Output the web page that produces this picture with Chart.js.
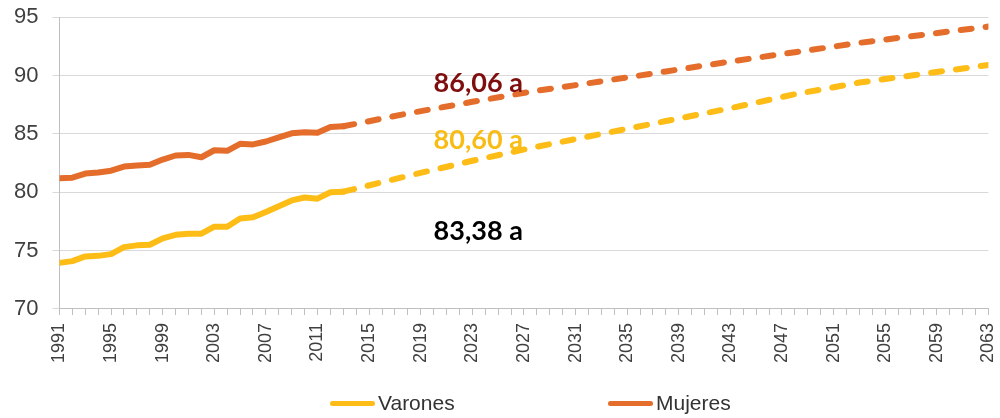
<!DOCTYPE html>
<html>
<head>
<meta charset="utf-8">
<script src="https://cdn.jsdelivr.net/npm/chart.js@4/dist/chart.umd.min.js"></script>
<style>
  html, body { margin: 0; padding: 0; background: #fff; }
  #wrap { position: relative; width: 1000px; height: 418px; overflow: hidden; }
  #box { position: absolute; left: 0; top: -10px; width: 1018px; height: 428px; }
  .leg { position: absolute; top: 391px; height: 24px; display: flex; align-items: center;
         font-family: "Liberation Sans", Arial, sans-serif; font-size: 21px; color: #333; }
  .leg span.line { display: inline-block; width: 45px; height: 5px; border-radius: 3px; margin-right: 3px; }
</style>
</head>
<body>
<div id="wrap">
  <div id="box"><canvas id="chart1"></canvas></div>
  <div class="leg" style="left:330px"><span class="line" style="background:#FDBD16"></span>Varones</div>
  <div class="leg" style="left:608px"><span class="line" style="background:#E46D2B"></span>Mujeres</div>
</div>
<script>
// Données observées (1991-2013)
const histYears = [1991, 1992, 1993, 1994, 1995, 1996, 1997, 1998, 1999, 2000, 2001, 2002,
                   2003, 2004, 2005, 2006, 2007, 2008, 2009, 2010, 2011, 2012, 2013];
const varonesHist = [73.95, 74.1, 74.5, 74.55, 74.7, 75.3, 75.45, 75.5, 76.05, 76.35, 76.45, 76.45,
                     77.05, 77.05, 77.75, 77.85, 78.3, 78.8, 79.3, 79.55, 79.45, 80.0, 80.05];
const mujeresHist = [81.2, 81.25, 81.6, 81.7, 81.85, 82.2, 82.3, 82.35, 82.8, 83.15, 83.2, 83.0,
                     83.6, 83.55, 84.15, 84.1, 84.35, 84.7, 85.05, 85.15, 85.1, 85.6, 85.65];

// Projections (2013-2063)
const projYears = [2013, 2018, 2023, 2028, 2033, 2038, 2043, 2048, 2053, 2058, 2063];
const varonesProj = [80.05, 81.4, 82.7, 83.9, 85.0, 86.1, 87.2, 88.4, 89.4, 90.15, 90.9];
const mujeresProj = [85.65, 86.75, 87.75, 88.7, 89.5, 90.35, 91.2, 92.0, 92.8, 93.5, 94.2];

// Étiquettes dans le graphique
const noteTexts = ['86,06 a', '80,60 a', '83,38 a'];
const noteColors = ['#7F0E0E', '#F9BC15', '#000000'];
const noteX = [2020, 2020, 2020];
const noteY = [88.62, 83.69, 75.92];

const toPoints = (xs, ys) => xs.map((x, i) => ({ x: x, y: ys[i] }));

const gold = '#FDBD16';
const orange = '#E46D2B';

// Plugin pour dessiner les étiquettes
const notesPlugin = {
  id: 'notes',
  afterDatasetsDraw(chart) {
    const { ctx, scales } = chart;
    ctx.save();
    ctx.font = 'bold 27px Lato, "Open Sans", sans-serif';
    ctx.textAlign = 'left';
    ctx.textBaseline = 'alphabetic';
    noteTexts.forEach((t, i) => {
      ctx.fillStyle = noteColors[i];
      ctx.fillText(t, scales.x.getPixelForValue(noteX[i]), scales.y.getPixelForValue(noteY[i]));
    });
    ctx.restore();
  }
};

const ctx = document.getElementById('chart1').getContext('2d');
new Chart(ctx, {
  type: 'line',
  data: {
    datasets: [
      { label: 'Varones', data: toPoints(histYears, varonesHist), borderColor: gold,
        borderWidth: 6, pointRadius: 0, borderCapStyle: 'round', borderJoinStyle: 'round' },
      { label: 'Mujeres', data: toPoints(histYears, mujeresHist), borderColor: orange,
        borderWidth: 6, pointRadius: 0, borderCapStyle: 'round', borderJoinStyle: 'round' },
      { label: 'Varones proy.', data: toPoints(projYears, varonesProj), borderColor: gold,
        borderWidth: 6, pointRadius: 0, borderDash: [11, 14], borderCapStyle: 'round' },
      { label: 'Mujeres proy.', data: toPoints(projYears, mujeresProj), borderColor: orange,
        borderWidth: 6, pointRadius: 0, borderDash: [11, 14], borderCapStyle: 'round' }
    ]
  },
  options: {
    responsive: true,
    maintainAspectRatio: false,
    animation: false,
    layout: { padding: { left: 0, right: 0, top: 0, bottom: 47 } },
    plugins: {
      legend: { display: false },
      tooltip: { enabled: false }
    },
    scales: {
      x: {
        type: 'linear',
        min: 1991,
        max: 2063,
        grid: { drawOnChartArea: false, color: '#bfbfbf', tickLength: 6 },
        border: { color: '#bfbfbf' },
        ticks: {
          stepSize: 1,
          autoSkip: false,
          minRotation: 90,
          maxRotation: 90,
          padding: 8,
          color: '#404040',
          font: { family: '"Liberation Sans", Arial, sans-serif', size: 18 },
          callback: v => ((v - 1991) % 4 === 0 ? String(v) : '')
        }
      },
      y: {
        min: 70,
        max: 95,
        grid: { color: '#d9d9d9', tickLength: 7 },
        border: { color: '#bfbfbf' },
        ticks: {
          stepSize: 5,
          padding: 14,
          color: '#404040',
          font: { family: '"Liberation Sans", Arial, sans-serif', size: 22 }
        }
      }
    }
  },
  plugins: [notesPlugin]
});
</script>
</body>
</html>
